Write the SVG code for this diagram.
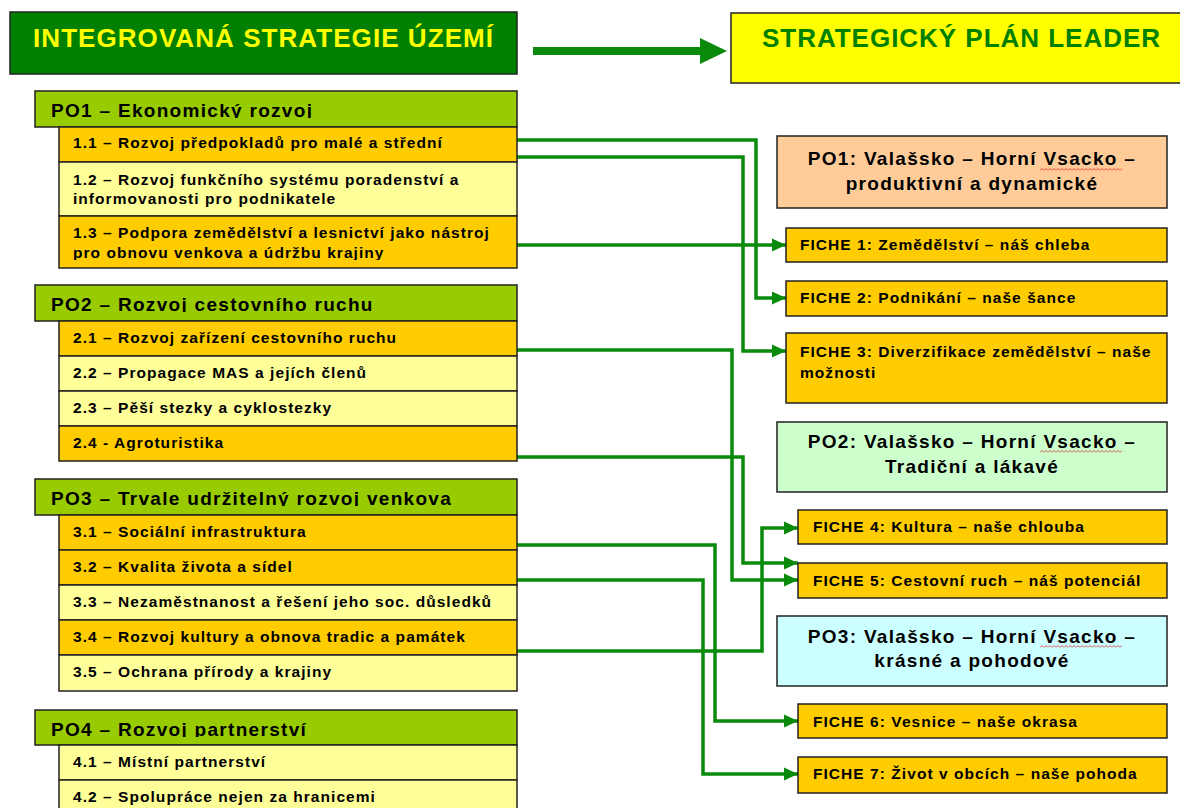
<svg xmlns="http://www.w3.org/2000/svg" width="1180" height="808" viewBox="0 0 1180 808">
<style>
text { font-family: "Liberation Sans", Arial, sans-serif; font-weight: bold; fill: #000; }
.h { font-size: 26px; }
.ph { font-size: 19px; letter-spacing: 1.3px; }
.it { font-size: 15.5px; letter-spacing: 1.05px; }
.c { text-anchor: middle; }
.box { stroke: #222; stroke-width: 1.5; }
.hdr { fill: #99CC00; }
.or { fill: #FFCC00; }
.ly { fill: #FFFF99; }
.cn { fill: none; stroke: #0a8a0a; stroke-width: 3.5; marker-end: url(#ah); }
</style>
<defs>
<marker id="ah" markerUnits="userSpaceOnUse" markerWidth="14" markerHeight="14" refX="14" refY="7" orient="auto"><path d="M0,0.5 L14,7 L0,13.5 z" fill="#0a8a0a"/></marker>
<pattern id="wv" width="4" height="3" patternUnits="userSpaceOnUse"><path d="M0 2.5 L2 0.5 L4 2.5" fill="none" stroke="#e02020" stroke-width="0.8"/></pattern>
<clipPath id="cp1"><rect x="35" y="91" width="482" height="27"/></clipPath>
<clipPath id="cp2"><rect x="35" y="285" width="482" height="27"/></clipPath>
<clipPath id="cp3"><rect x="35" y="479" width="482" height="27"/></clipPath>
<clipPath id="cp4"><rect x="35" y="710" width="482" height="27"/></clipPath>
<clipPath id="cp13"><rect x="59" y="240" width="458" height="20"/></clipPath>
</defs>
<rect width="1180" height="808" fill="#fff"/>

<g id="connectors">
<path d="M533,51 H702" stroke="#0a8a0a" stroke-width="8" fill="none"/>
<polygon points="700,38 727,51 700,64" fill="#0a8a0a"/>
<path class="cn" d="M517,140 H756 V298 H786"/>
<path class="cn" d="M517,157 H743 V351 H786"/>
<path class="cn" d="M517,245 H786"/>
<path class="cn" d="M517,350 H732 V580 H798"/>
<path class="cn" d="M517,457 H743 V563 H798"/>
<path class="cn" d="M517,545 H715 V721 H798"/>
<path class="cn" d="M517,580 H703 V774 H798"/>
<path class="cn" d="M517,651 H762 V528 H798"/>
</g>

<g id="ist-header">
<rect class="box" x="10" y="12" width="507" height="62" fill="#008000"/>
<text class="h" x="33" y="47" textLength="460" lengthAdjust="spacing" style="fill:#FFFF00">INTEGROVANÁ STRATEGIE ÚZEMÍ</text>
</g>
<g id="spl-header">
<rect class="box" x="731" y="13" width="460" height="70" fill="#FFFF00"/>
<text class="h" x="762" y="47" textLength="398" lengthAdjust="spacing" style="fill:#008000">STRATEGICKÝ PLÁN LEADER</text>
</g>

<g id="po1">
<rect class="box hdr" x="35" y="91" width="482" height="36"/>
<text class="ph" x="51" y="117" clip-path="url(#cp1)">PO1 – Ekonomický rozvoj</text>
</g>
<g id="i11"><rect class="box or" x="59" y="127" width="458" height="35"/><text class="it" x="73" y="148">1.1 – Rozvoj předpokladů pro malé a střední</text></g>
<g id="i12"><rect class="box ly" x="59" y="162" width="458" height="54"/><text class="it" x="73" y="185">1.2 – Rozvoj funkčního systému poradenství a</text><text class="it" x="73" y="204">informovanosti pro podnikatele</text></g>
<g id="i13"><rect class="box or" x="59" y="216" width="458" height="52"/><text class="it" x="73" y="238">1.3 – Podpora zemědělství a lesnictví jako nástroj</text><text class="it" x="73" y="258" clip-path="url(#cp13)">pro obnovu venkova a údržbu krajiny</text></g>

<g id="po2">
<rect class="box hdr" x="35" y="285" width="482" height="36"/>
<text class="ph" x="51" y="311" clip-path="url(#cp2)">PO2 – Rozvoj cestovního ruchu</text>
</g>
<g id="i21"><rect class="box or" x="59" y="321" width="458" height="35"/><text class="it" x="73" y="343">2.1 – Rozvoj zařízení cestovního ruchu</text></g>
<g id="i22"><rect class="box ly" x="59" y="356" width="458" height="35"/><text class="it" x="73" y="378">2.2 – Propagace MAS a jejích členů</text></g>
<g id="i23"><rect class="box ly" x="59" y="391" width="458" height="35"/><text class="it" x="73" y="413">2.3 – Pěší stezky a cyklostezky</text></g>
<g id="i24"><rect class="box or" x="59" y="426" width="458" height="35"/><text class="it" x="73" y="448">2.4 - Agroturistika</text></g>

<g id="po3">
<rect class="box hdr" x="35" y="479" width="482" height="36"/>
<text class="ph" x="51" y="505" clip-path="url(#cp3)">PO3 – Trvale udržitelný rozvoj venkova</text>
</g>
<g id="i31"><rect class="box or" x="59" y="515" width="458" height="35"/><text class="it" x="73" y="537">3.1 – Sociální infrastruktura</text></g>
<g id="i32"><rect class="box or" x="59" y="550" width="458" height="35"/><text class="it" x="73" y="572">3.2 – Kvalita života a sídel</text></g>
<g id="i33"><rect class="box ly" x="59" y="585" width="458" height="35"/><text class="it" x="73" y="607">3.3 – Nezaměstnanost a řešení jeho soc. důsledků</text></g>
<g id="i34"><rect class="box or" x="59" y="620" width="458" height="35"/><text class="it" x="73" y="642">3.4 – Rozvoj kultury a obnova tradic a památek</text></g>
<g id="i35"><rect class="box ly" x="59" y="655" width="458" height="36"/><text class="it" x="73" y="677">3.5 – Ochrana přírody a krajiny</text></g>

<g id="po4">
<rect class="box hdr" x="35" y="710" width="482" height="35"/>
<text class="ph" x="51" y="736" clip-path="url(#cp4)">PO4 – Rozvoj partnerství</text>
</g>
<g id="i41"><rect class="box ly" x="59" y="745" width="458" height="35"/><text class="it" x="73" y="767">4.1 – Místní partnerství</text></g>
<g id="i42"><rect class="box ly" x="59" y="780" width="458" height="40"/><text class="it" x="73" y="802">4.2 – Spolupráce nejen za hranicemi</text></g>

<g id="spl-po1">
<rect class="box" x="777" y="136" width="390" height="72" fill="#FFCC99"/>
<text class="ph c" x="972" y="165">PO1: Valašsko – Horní Vsacko –</text>
<text class="ph c" x="972" y="190">produktivní a dynamické</text>
<rect x="1040" y="168" width="82" height="3" fill="url(#wv)"/>
</g>
<g id="fiche1"><rect class="box or" x="786" y="228" width="381" height="34"/><text class="it" x="800" y="250">FICHE 1: Zemědělství – náš chleba</text></g>
<g id="fiche2"><rect class="box or" x="786" y="281" width="381" height="35"/><text class="it" x="800" y="303">FICHE 2: Podnikání – naše šance</text></g>
<g id="fiche3"><rect class="box or" x="786" y="333" width="381" height="70"/><text class="it" x="800" y="357">FICHE 3: Diverzifikace zemědělství – naše</text><text class="it" x="800" y="378">možnosti</text></g>

<g id="spl-po2">
<rect class="box" x="777" y="422" width="390" height="70" fill="#CCFFCC"/>
<text class="ph c" x="972" y="448">PO2: Valašsko – Horní Vsacko –</text>
<text class="ph c" x="972" y="473">Tradiční a lákavé</text>
<rect x="1040" y="450" width="82" height="3" fill="url(#wv)"/>
</g>
<g id="fiche4"><rect class="box or" x="798" y="510" width="369" height="34"/><text class="it" x="813" y="532">FICHE 4: Kultura – naše chlouba</text></g>
<g id="fiche5"><rect class="box or" x="798" y="563" width="369" height="35"/><text class="it" x="813" y="586">FICHE 5: Cestovní ruch – náš potenciál</text></g>

<g id="spl-po3">
<rect class="box" x="777" y="616" width="390" height="70" fill="#CCFFFF"/>
<text class="ph c" x="972" y="643">PO3: Valašsko – Horní Vsacko –</text>
<text class="ph c" x="972" y="667">krásné a pohodové</text>
<rect x="1040" y="645" width="82" height="3" fill="url(#wv)"/>
</g>
<g id="fiche6"><rect class="box or" x="798" y="704" width="369" height="34"/><text class="it" x="813" y="727">FICHE 6: Vesnice – naše okrasa</text></g>
<g id="fiche7"><rect class="box or" x="798" y="757" width="369" height="36"/><text class="it" x="813" y="779">FICHE 7: Život v obcích – naše pohoda</text></g>
</svg>
